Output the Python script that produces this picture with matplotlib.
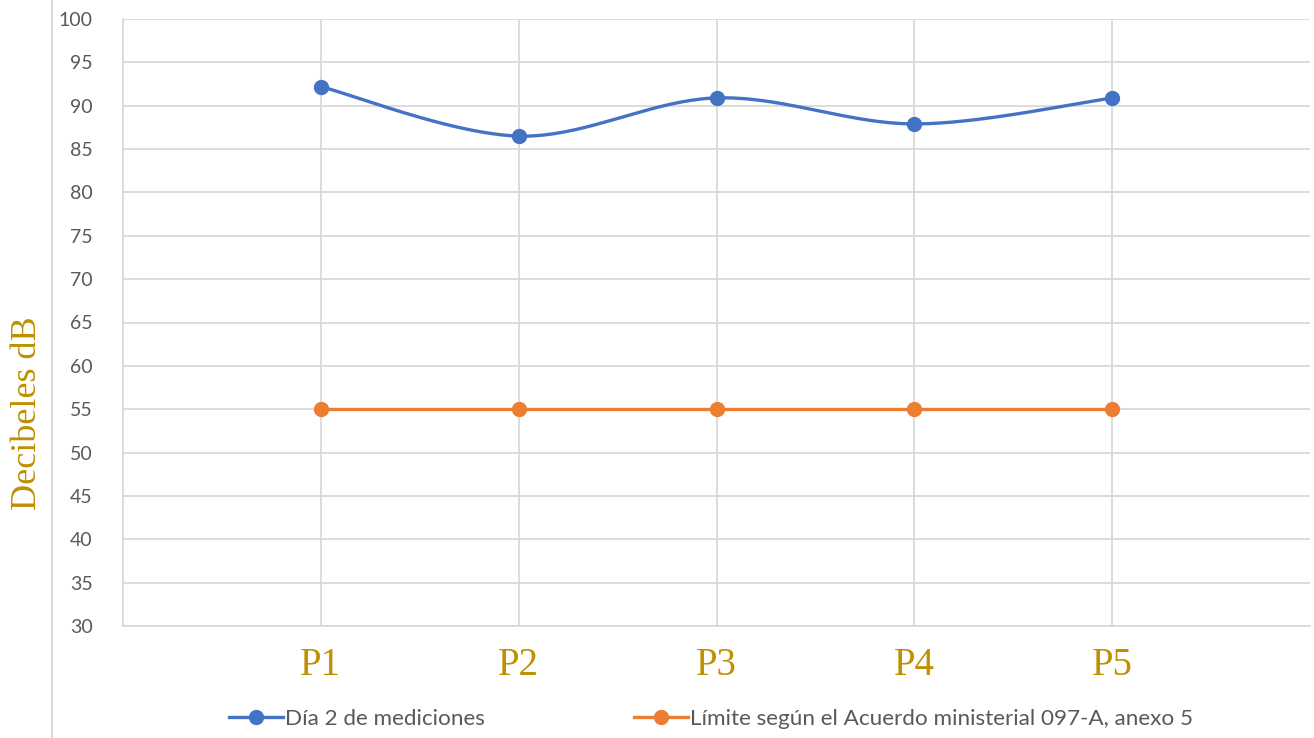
import numpy as np
import matplotlib
matplotlib.use("Agg")
import matplotlib.pyplot as plt
from matplotlib.lines import Line2D

categories = ["P1", "P2", "P3", "P4", "P5"]
dia2 = [92.2, 86.5, 90.9, 87.9, 90.9]
limite = [55, 55, 55, 55, 55]
series_names = ["Día 2 de mediciones", "Límite según el Acuerdo ministerial 097-A, anexo 5"]
yticks = list(range(30, 101, 5))

BLUE = "#4472C4"
ORANGE = "#ED7D31"
GRID = "#D9D9D9"
GOLD = "#BF9000"
TXT = "#595959"


def smooth(xs, ys, n=40):
    xs = np.asarray(xs, float); ys = np.asarray(ys, float)
    px = np.concatenate([[xs[0]], xs, [xs[-1]]])
    py = np.concatenate([[ys[0]], ys, [ys[-1]]])
    ox, oy = [], []
    for i in range(1, len(px) - 2):
        p0 = np.array([px[i], py[i]]); p3 = np.array([px[i + 1], py[i + 1]])
        c1 = p0 + (np.array([px[i + 1], py[i + 1]]) - np.array([px[i - 1], py[i - 1]])) / 6
        c2 = p3 - (np.array([px[i + 2], py[i + 2]]) - np.array([px[i], py[i]])) / 6
        t = np.linspace(0, 1, n)[:, None]
        b = (1 - t) ** 3 * p0 + 3 * (1 - t) ** 2 * t * c1 + 3 * (1 - t) * t ** 2 * c2 + t ** 3 * p3
        ox.extend(b[:, 0]); oy.extend(b[:, 1])
    return np.array(ox), np.array(oy)


fig = plt.figure(figsize=(13.14, 7.38), dpi=100)
ax = fig.add_axes([123 / 1314, 1 - 626 / 738, (1310 - 123) / 1314, (626 - 19) / 738])

x = np.arange(1, len(categories) + 1)
sx, sy = smooth(x, dia2)
ax.plot(sx, sy, color=BLUE, lw=2.4, solid_capstyle="round", zorder=3)
ax.plot(x, dia2, "o", color=BLUE, ms=10, zorder=4)
ax.plot(x, limite, "-o", color=ORANGE, lw=2.4, ms=10, zorder=3)

ax.set_xlim(0, 6)
ax.set_ylim(30, 100)
ax.set_yticks(yticks)
ax.set_yticklabels([str(v) for v in yticks], fontfamily="Lato", fontsize=14, color=TXT)
ax.set_xticks(x)
ax.set_xticklabels(categories, fontfamily="Liberation Serif", fontsize=28, color=GOLD)
ax.tick_params(axis="both", length=0)
ax.tick_params(axis="y", pad=22)
ax.tick_params(axis="x", pad=15)
ax.grid(True, color=GRID, lw=1.3)
ax.set_axisbelow(True)
for s in ["top", "right"]:
    ax.spines[s].set_visible(False)
for s in ["left", "bottom"]:
    ax.spines[s].set_color(GRID)
    ax.spines[s].set_linewidth(1.3)

fig.text(28 / 1314, 1 - 413 / 738, "Decibeles dB", rotation=90, ha="center", va="center",
         fontfamily="Liberation Serif", fontsize=26, color=GOLD)

fig.add_artist(Line2D([52 / 1314, 52 / 1314], [0, 1], color=GRID, lw=1.5, transform=fig.transFigure))

handles = [Line2D([], [], color=BLUE, lw=2.4, marker="o", ms=10),
           Line2D([], [], color=ORANGE, lw=2.4, marker="o", ms=10)]
fig.legend(handles, series_names, loc="center", bbox_to_anchor=(711 / 1314, 1 - 719 / 738), ncol=2,
           frameon=False, prop={"family": "Lato", "size": 16.2}, labelcolor=TXT,
           handlelength=2.4, handletextpad=0.1, columnspacing=6.6)

fig.savefig("out.png", dpi=100)
